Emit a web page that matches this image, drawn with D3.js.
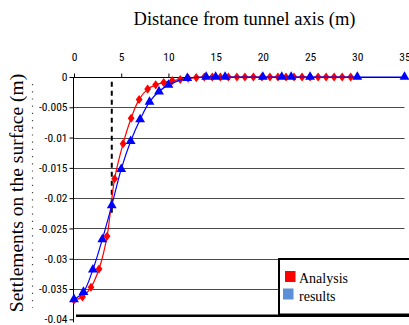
<!DOCTYPE html>
<html>
<head>
<meta charset="utf-8">
<script src="https://cdn.jsdelivr.net/npm/d3@7"></script>
<style>
  body { margin: 0; background: #fff; }
</style>
</head>
<body>
<div id="chart"></div>
<script>
// Data
const analysisX = [0, 0.9, 1.8, 2.65, 3.5, 4.3, 5.2, 6.05, 6.9, 7.8, 8.65, 9.5, 10.4, 11.25, 12.1, 12.95,
  13.8, 14.65, 15.5, 16.35, 17.25, 18.1, 19.0, 19.9, 20.75, 21.6, 22.45, 23.3, 24.15, 25.0, 25.85, 26.7, 27.55, 28.4, 29.3]
const analysisY = [-0.0368, -0.0363, -0.0347, -0.0317, -0.0263, -0.0168, -0.011, -0.0068, -0.0037, -0.002, -0.0013,
  -0.0009, -0.0006, -0.0004, -0.0002, -0.0001, 0, 0, 0, 0, 0, 0, 0, 0, 0, 0, 0, 0, 0, 0, 0, 0, 0, 0, 0]
const resultsX = [0, 1, 2, 3, 4, 5, 6, 7, 8, 9, 10, 12, 14, 15, 16, 20, 22, 23, 25, 30, 35]
const resultsY = [-0.0367, -0.0355, -0.0318, -0.0268, -0.0212, -0.0152, -0.0106, -0.007, -0.0041, -0.0024, -0.0013,
  -0.0002, 0, 0, 0, 0, 0, 0, 0, 0, 0]
const xTicks = [0, 5, 10, 15, 20, 25, 30, 35]
const yTicks = [0, -0.005, -0.01, -0.015, -0.02, -0.025, -0.03, -0.035, -0.04]
const tunnelEdge = { x: 4, y0: -0.0008, y1: -0.0225 }
const legendItems = ["Analysis", "results"]

const serif = "\"Liberation Serif\", serif"
const narrow = "\"Roboto Condensed\", \"Liberation Sans\", sans-serif"

// Dimensions
const dimensions = { width: 409, height: 325 }

const svg = d3.select("#chart")
  .append("svg")
  .attr("width", dimensions.width)
  .attr("height", dimensions.height)

const xScale = d3.scaleLinear().domain([0, 35]).range([74, 404.5])
const yScale = d3.scaleLinear().domain([-0.04, 0]).range([319.3, 77])

// Gridlines
svg.append("g")
  .selectAll("line")
  .data(yTicks.filter(d => d < 0 && d > -0.04))
  .join("line")
  .attr("x1", xScale(0))
  .attr("x2", xScale(35))
  .attr("y1", d => Math.round(yScale(d)) + 0.5)
  .attr("y2", d => Math.round(yScale(d)) + 0.5)
  .attr("stroke", "#4a4a4a")
  .attr("stroke-width", 1)

// Bottom border of the plot area
svg.append("line")
  .attr("x1", xScale(0) + 2)
  .attr("x2", dimensions.width)
  .attr("y1", yScale(-0.04) - 3.5)
  .attr("y2", yScale(-0.04) - 3.5)
  .attr("stroke", "#000")
  .attr("stroke-width", 2.5)

// Top x axis (at y = 0)
const xAxis = d3.axisTop(xScale)
  .tickValues(xTicks)
  .tickSize(4)
  .tickFormat(d3.format("d"))

const xAxisGroup = svg.append("g")
  .attr("transform", `translate(0, ${Math.round(yScale(0)) + 0.5})`)
  .call(xAxis)
xAxisGroup.attr("font-family", null).attr("font-size", null)
xAxisGroup.select(".domain").attr("d", `M${xScale(0)},0H${xScale(35)}`).attr("stroke", "#000")
xAxisGroup.selectAll(".tick line").attr("stroke", "#000")
xAxisGroup.selectAll(".tick text")
  .attr("y", -20)
  .attr("dy", "0.32em")
  .attr("fill", "#000")
  .style("font-family", narrow)
  .style("font-size", "11.5px")

// Left y axis
const yAxis = d3.axisLeft(yScale)
  .tickValues(yTicks)
  .tickSize(4)
  .tickFormat(d => d === 0 ? "0" : String(d))

const yAxisGroup = svg.append("g")
  .attr("transform", `translate(${Math.round(xScale(0)) - 0.5}, 0)`)
  .call(yAxis)
yAxisGroup.attr("font-family", null).attr("font-size", null)
yAxisGroup.select(".domain").attr("d", `M0,${yScale(0)}V${yScale(-0.04) + 3}`).attr("stroke", "#000")
yAxisGroup.selectAll(".tick line").attr("stroke", "#000")
yAxisGroup.selectAll(".tick text")
  .attr("x", -6)
  .attr("fill", "#000")
  .style("font-family", narrow)
  .style("font-size", "11.5px")

// Tunnel edge dashed line
svg.append("line")
  .attr("x1", xScale(tunnelEdge.x))
  .attr("x2", xScale(tunnelEdge.x))
  .attr("y1", yScale(tunnelEdge.y0))
  .attr("y2", yScale(tunnelEdge.y1))
  .attr("stroke", "#000")
  .attr("stroke-width", 2)
  .attr("stroke-dasharray", "5,4")

// Series
const line = d3.line()
  .x(d => xScale(d[0]))
  .y(d => yScale(d[1]))
  .curve(d3.curveCatmullRom.alpha(0.5))

const analysis = d3.zip(analysisX, analysisY)
const results = d3.zip(resultsX, resultsY)

const diamond = {
  draw(context, size) {
    const w = Math.sqrt(size) * 0.6
    const h = Math.sqrt(size) * 0.8
    context.moveTo(0, -h)
    context.lineTo(w, 0)
    context.lineTo(0, h)
    context.lineTo(-w, 0)
    context.closePath()
  }
}

svg.append("path")
  .datum(analysis)
  .attr("d", line)
  .attr("fill", "none")
  .attr("stroke", "#ff0000")
  .attr("stroke-width", 1.2)

svg.append("g")
  .selectAll("path")
  .data(analysis)
  .join("path")
  .attr("transform", d => `translate(${xScale(d[0])}, ${yScale(d[1])})`)
  .attr("d", d3.symbol().type(diamond).size(32))
  .attr("fill", "#ff0000")

svg.append("path")
  .datum(results)
  .attr("d", line)
  .attr("fill", "none")
  .attr("stroke", "#0000ff")
  .attr("stroke-width", 1.2)

svg.append("g")
  .selectAll("path")
  .data(results)
  .join("path")
  .attr("transform", d => `translate(${xScale(d[0])}, ${yScale(d[1])})`)
  .attr("d", d3.symbol().type(d3.symbolTriangle).size(42))
  .attr("fill", "#0000ff")

// Titles
svg.append("text")
  .attr("x", 244.5)
  .attr("y", 25)
  .attr("text-anchor", "middle")
  .attr("fill", "#000")
  .style("font-family", serif)
  .style("font-size", "18.5px")
  .text("Distance from tunnel axis (m)")

svg.append("text")
  .attr("transform", "translate(23, 193) rotate(-90)")
  .attr("text-anchor", "middle")
  .attr("fill", "#000")
  .style("font-family", serif)
  .style("font-size", "19.5px")
  .text("Settlements on the surface (m)")

// Dotted artefact line next to the y title
svg.append("line")
  .attr("x1", 32.5)
  .attr("x2", 32.5)
  .attr("y1", 84)
  .attr("y2", 308)
  .attr("stroke", "#444")
  .attr("stroke-width", 1.2)
  .attr("stroke-dasharray", "1.2,6")

// Legend
const legend = svg.append("g")
legend.append("rect")
  .attr("x", 279)
  .attr("y", 259)
  .attr("width", 140)
  .attr("height", 55.5)
  .attr("fill", "#fff")
  .attr("stroke", "#000")
  .attr("stroke-width", 2)

const legendColors = ["#ff0000", "#5b8fd6"]
legend.selectAll("rect.key")
  .data(legendItems)
  .join("rect")
  .attr("class", "key")
  .attr("x", (d, i) => i === 0 ? 285 : 283)
  .attr("y", (d, i) => 271 + i * 17.5)
  .attr("width", 10.5)
  .attr("height", 11)
  .attr("fill", (d, i) => legendColors[i])

legend.selectAll("text")
  .data(legendItems)
  .join("text")
  .attr("x", 299)
  .attr("y", (d, i) => 283 + i * 17.5)
  .attr("fill", "#000")
  .style("font-family", serif)
  .style("font-size", "14px")
  .text(d => d)
</script>
</body>
</html>
